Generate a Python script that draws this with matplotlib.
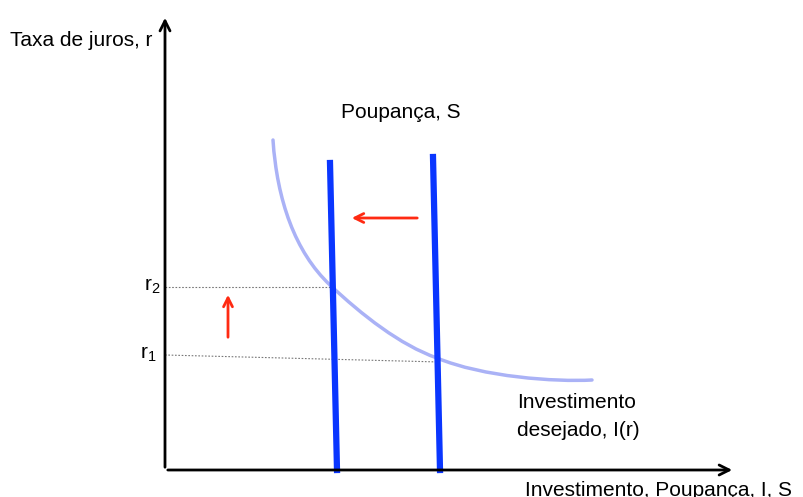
import matplotlib.pyplot as plt
from matplotlib.path import Path
from matplotlib.patches import PathPatch

plt.rcParams['font.family'] = ['Liberation Sans', 'DejaVu Sans']

# investment curve: start, bezier control points and knots
curve_x = [108, 112, 130, 165, 197, 235, 272, 318, 390, 427]
curve_y = [330, 270, 218, 185, 155, 125, 112, 93, 88, 90]

s1_x = [165, 172]
s1_y = [307, 0]
s2_x = [268, 275]
s2_y = [313, 0]

r2_x = [0, 168]
r2_y = [183, 183]
r1_x = [0, 275]
r1_y = [115, 108]

x_max = 570
y_max = 455

fig = plt.figure(figsize=(8.04, 4.97), dpi=100)
ax = fig.add_axes([0, 0, 1, 1])
ax.set_xlim(-165, 639)
ax.set_ylim(-27, 470)
ax.axis('off')

# axes with arrow heads
ax.annotate('', xy=(0, y_max), xytext=(0, 0),
            arrowprops=dict(arrowstyle='->', lw=2, color='black', mutation_scale=18))
ax.annotate('', xy=(x_max, 0), xytext=(0, 0),
            arrowprops=dict(arrowstyle='->', lw=2, color='black', mutation_scale=18))

# dotted reference lines
ax.plot(r2_x, r2_y, color='#777777', lw=0.8, ls=(0, (1.5, 1.5)))
ax.plot(r1_x, r1_y, color='#777777', lw=0.8, ls=(0, (1.5, 1.5)))

# investment curve
codes = [Path.MOVETO] + [Path.CURVE4] * (len(curve_x) - 1)
path = Path(list(zip(curve_x, curve_y)), codes)
ax.add_patch(PathPatch(path, facecolor='none', edgecolor='#aab2f6', lw=2.5, capstyle='round'))

# savings lines
ax.plot(s1_x, s1_y, color='#0a36ff', lw=4.5)
ax.plot(s2_x, s2_y, color='#0a36ff', lw=4.5)

# red arrows
ax.annotate('', xy=(63, 178), xytext=(63, 130),
            arrowprops=dict(arrowstyle='->', lw=2, color='#ff2a12', mutation_scale=16))
ax.annotate('', xy=(184, 252), xytext=(255, 252),
            arrowprops=dict(arrowstyle='->', lw=2, color='#ff2a12', mutation_scale=16))

fs = 15
ax.text(-155, 430, 'Taxa de juros, r', fontsize=fs, va='center', ha='left')
ax.text(236, 357, 'Poupança, S', fontsize=fs, va='center', ha='center')
ax.text(352, 68, 'Investimento', fontsize=fs, va='center', ha='left')
ax.text(352, 40, 'desejado, I(r)', fontsize=fs, va='center', ha='left')
ax.text(360, -20, 'Investimento, Poupança, I, S', fontsize=fs, va='center', ha='left')
ax.text(-4, 184, r'$\mathregular{r_2}$', fontsize=fs, va='center', ha='right')
ax.text(-8, 116, r'$\mathregular{r_1}$', fontsize=fs, va='center', ha='right')

fig.savefig('out.png', dpi=100)
